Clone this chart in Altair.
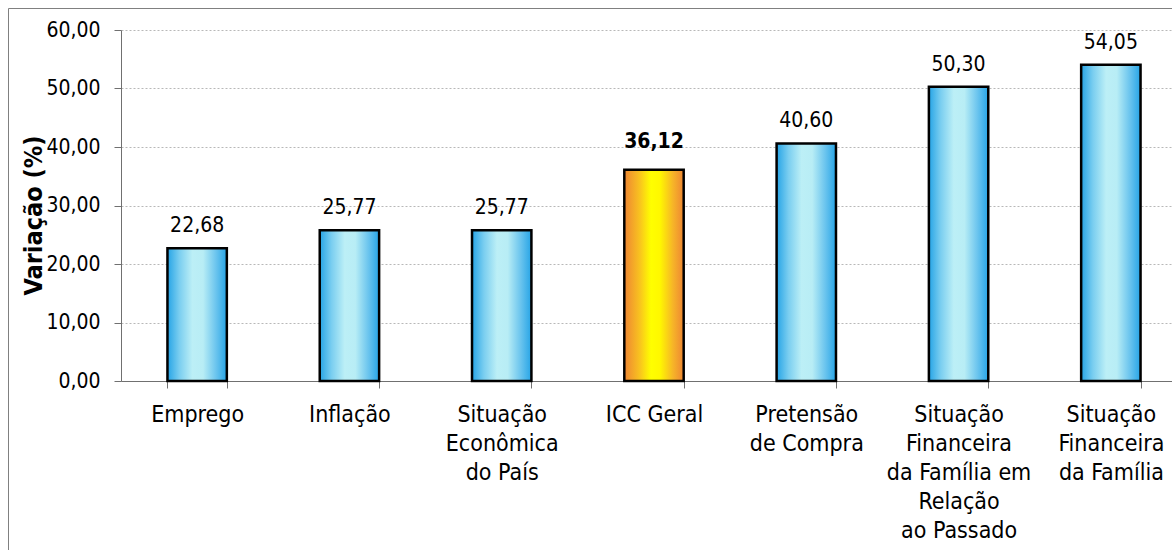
import altair as alt
import pandas as pd

categories = [
    "Emprego",
    "Inflação",
    "Situação\nEconômica\ndo País",
    "ICC Geral",
    "Pretensão\nde Compra",
    "Situação\nFinanceira\nda Família em\nRelação\nao Passado",
    "Situação\nFinanceira\nda Família",
]
values = [22.68, 25.77, 25.77, 36.12, 40.60, 50.30, 54.05]
highlight = [False, False, False, True, False, False, False]
y_ticks = [0, 10, 20, 30, 40, 50, 60]

df = pd.DataFrame({"cat": categories, "value": values, "hl": highlight})

FONT = "'DejaVu Sans Condensed', 'Open Sans', sans-serif"
AXIS_GRAY = "#707070"

blue_grad = alt.LinearGradient(
    gradient="linear",
    x1=0, x2=1, y1=0, y2=0,
    stops=[
        alt.GradientStop(color="#26A4E6", offset=0),
        alt.GradientStop(color="#7ACEF0", offset=0.2),
        alt.GradientStop(color="#BCEFF6", offset=0.42),
        alt.GradientStop(color="#B8EDF5", offset=0.6),
        alt.GradientStop(color="#6AC4EE", offset=0.82),
        alt.GradientStop(color="#26A4E6", offset=1),
    ],
)
orange_grad = alt.LinearGradient(
    gradient="linear",
    x1=0, x2=1, y1=0, y2=0,
    stops=[
        alt.GradientStop(color="#EE8533", offset=0),
        alt.GradientStop(color="#F8C020", offset=0.25),
        alt.GradientStop(color="#FFFF00", offset=0.45),
        alt.GradientStop(color="#FFF800", offset=0.6),
        alt.GradientStop(color="#F6B428", offset=0.82),
        alt.GradientStop(color="#EE8533", offset=1),
    ],
)

x_enc = alt.X(
    "cat:N",
    sort=categories,
    scale=alt.Scale(range=[0, 1066], paddingInner=0.61, paddingOuter=0.305),
    axis=alt.Axis(
        title=None,
        labelAngle=0,
        labelExpr="split(datum.label, '\\n')",
        labelFontSize=23,
        labelLineHeight=29,
        labelPadding=15,
        labelColor="black",
        labelFont=FONT,
        labelOverlap=False,
        labelBound=False,
        tickBand="extent",
        tickSize=7,
        tickColor=AXIS_GRAY,
        domainColor=AXIS_GRAY,
        grid=False,
    ),
)
y_enc = alt.Y(
    "value:Q",
    scale=alt.Scale(domain=[0, 60], nice=False),
    axis=alt.Axis(
        values=y_ticks,
        labelExpr="replace(format(datum.value, '.2f'), '.', ',')",
        labelFontSize=21,
        labelFont=FONT,
        labelColor="black",
        labelPadding=14,
        tickSize=7,
        tickColor=AXIS_GRAY,
        domainColor=AXIS_GRAY,
        gridColor="#b8b8b8",
        gridDash=[2, 2],
        title="Variação (%)",
        titleFont=FONT,
        titleFontSize=25,
        titleFontWeight="bold",
        titleColor="black",
        titleAngle=-90,
        titleX=-80,
        titleY=185,
        titleAlign="center",
        titleBaseline="alphabetic",
    ),
)

base = alt.Chart(df).encode(x=x_enc, y=y_enc)

frame = alt.Chart(alt.Data(values=[{"k": 1}])).mark_rect(
    fill="#ffffff", fillOpacity=0, stroke="#808080", strokeWidth=1
).encode(
    x=alt.value(-112.5), x2=alt.value(1200), y=alt.value(-21.5), y2=alt.value(600)
)

bars_blue = base.transform_filter("!datum.hl").mark_bar(
    color=blue_grad, stroke="black", strokeWidth=2.5
)
bars_icc = base.transform_filter("datum.hl").mark_bar(
    color=orange_grad, stroke="black", strokeWidth=2.5
)

label_calc = "replace(format(datum.value, '.2f'), '.', ',')"
text_blue = base.transform_filter("!datum.hl").transform_calculate(
    lbl=label_calc
).mark_text(dy=-16, fontSize=21, font=FONT, baseline="alphabetic", color="black").encode(
    text="lbl:N"
)
text_icc = base.transform_filter("datum.hl").transform_calculate(
    lbl=label_calc
).mark_text(
    dy=-22, fontSize=21, font=FONT, fontWeight="bold", baseline="alphabetic", color="black"
).encode(text="lbl:N")

chart = alt.layer(frame, bars_blue, bars_icc, text_blue, text_icc).properties(
    width=1051,
    height=351,
    autosize="none",
    padding={"left": 121, "top": 30, "right": 0, "bottom": 169},
    background="white",
).configure_view(stroke=None)

chart.save("out.html", embed_options={"renderer": "svg", "actions": False})
